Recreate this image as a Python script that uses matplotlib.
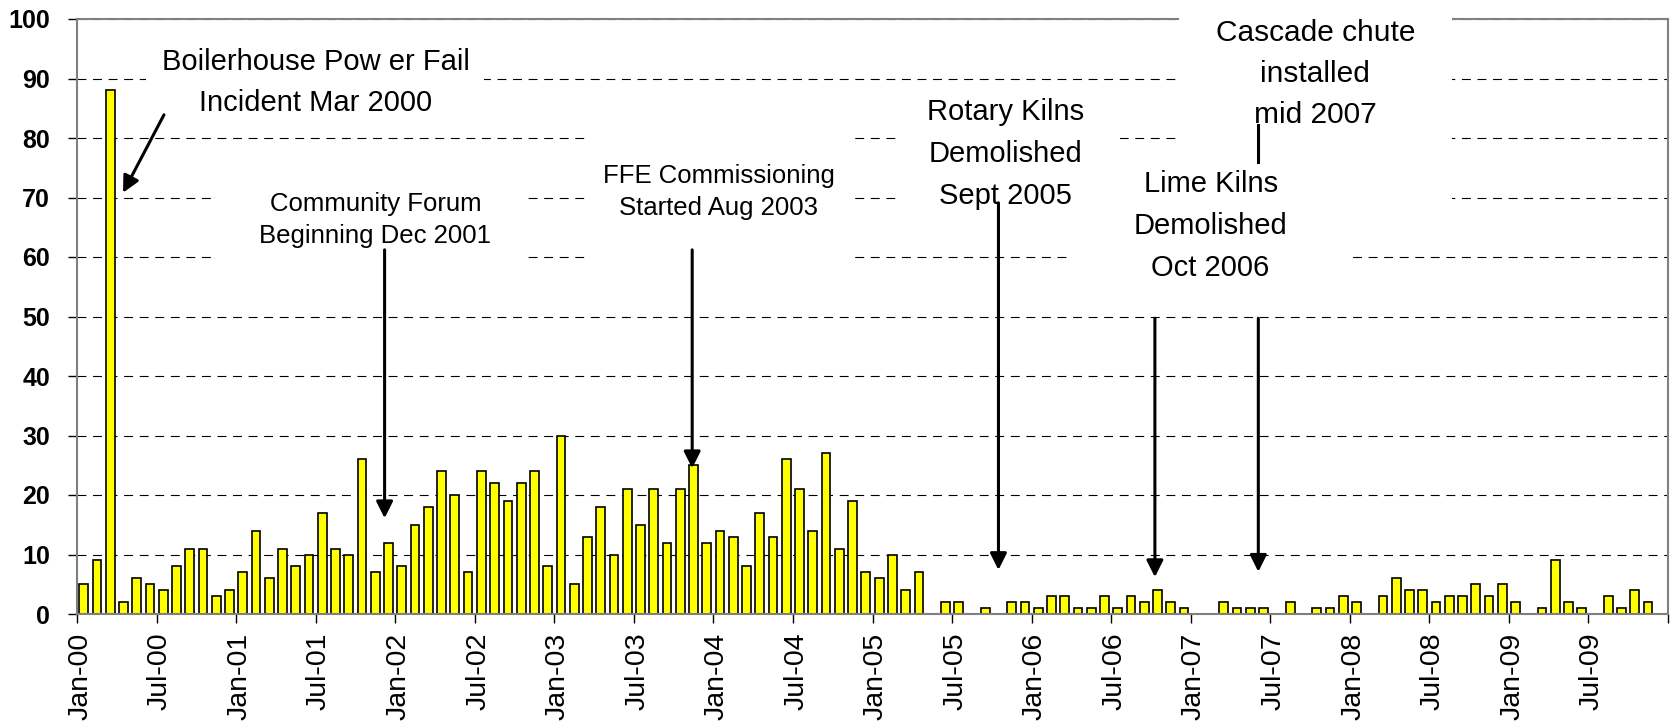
import matplotlib
matplotlib.use('Agg')
import matplotlib.pyplot as plt
from matplotlib.patches import Rectangle
import numpy as np

plt.rcParams['font.family'] = ['Liberation Sans', 'DejaVu Sans']

# monthly counts, Jan 2000 - Dec 2009
counts_2000 = [5, 9, 88, 2, 6, 5, 4, 8, 11, 11, 3, 4]
counts_2001 = [7, 14, 6, 11, 8, 10, 17, 11, 10, 26, 7, 12]
counts_2002 = [8, 15, 18, 24, 20, 7, 24, 22, 19, 22, 24, 8]
counts_2003 = [30, 5, 13, 18, 10, 21, 15, 21, 12, 21, 25, 12]
counts_2004 = [14, 13, 8, 17, 13, 26, 21, 14, 27, 11, 19, 7]
counts_2005 = [6, 10, 4, 7, 0, 2, 2, 0, 1, 0, 2, 2]
counts_2006 = [1, 3, 3, 1, 1, 3, 1, 3, 2, 4, 2, 1]
counts_2007 = [0, 0, 2, 1, 1, 1, 0, 2, 0, 1, 1, 3]
counts_2008 = [2, 0, 3, 6, 4, 4, 2, 3, 3, 5, 3, 5]
counts_2009 = [2, 0, 1, 9, 2, 1, 0, 3, 1, 4, 2, 0]

counts = (counts_2000 + counts_2001 + counts_2002 + counts_2003 + counts_2004
          + counts_2005 + counts_2006 + counts_2007 + counts_2008 + counts_2009)

tick_labels = ['Jan-00', 'Jul-00', 'Jan-01', 'Jul-01', 'Jan-02', 'Jul-02',
               'Jan-03', 'Jul-03', 'Jan-04', 'Jul-04', 'Jan-05', 'Jul-05',
               'Jan-06', 'Jul-06', 'Jan-07', 'Jul-07', 'Jan-08', 'Jul-08',
               'Jan-09', 'Jul-09']

fig = plt.figure(figsize=(16.72, 7.28), dpi=100)
ax = fig.add_axes([77 / 1672, 114 / 728, 1591 / 1672, 595 / 728])

x = np.arange(len(counts))
ax.bar(x, counts, width=0.66, color='#FFFF00', edgecolor='black',
       linewidth=1.2, zorder=2)

ax.set_xlim(-0.5, len(counts) - 0.5)
ax.set_ylim(0, 100)
ax.set_yticks(range(0, 101, 10))
ax.set_axisbelow(True)
ax.yaxis.grid(True, color='black', linestyle=(0, (8, 6)), linewidth=0.8)

# labels every 6 months, tick marks on month boundaries
ax.set_xticks(np.arange(0, len(counts), 6) - 0.25)
ax.set_xticklabels(tick_labels)
ax.set_xticks(np.arange(-0.5, len(counts), 6), minor=True)
ax.tick_params(axis='x', which='major', length=0, pad=13.5, labelsize=20.5,
               labelrotation=90)
ax.tick_params(axis='x', which='minor', length=6.5, width=1, color='black')
ax.tick_params(axis='y', length=6.5, width=1, color='black', pad=13,
               labelsize=18)
for lbl in ax.get_yticklabels():
    lbl.set_fontweight('bold')

for side in ['left', 'right', 'top', 'bottom']:
    ax.spines[side].set_color('#808080')
    ax.spines[side].set_linewidth(1.5)

# white text boxes (x0, x1, y0, y1)
boxes = [
    (4.7, 30.2, 82, 98.5),
    (10.0, 33.4, 52, 76),
    (37.8, 57.8, 55, 87),
    (61.4, 78.2, 65, 87),
    (82.6, 103.2, 65, 104),
    (74.2, 95.7, 50.3, 75.5),
]
for x0, x1, y0, y1 in boxes:
    ax.add_patch(Rectangle((x0, y0), x1 - x0, y1 - y0, facecolor='white',
                           edgecolor='none', zorder=3, clip_on=False))

notes = [
    ('Boilerhouse Pow er Fail\nIncident Mar 2000', 17.5, 89.3, 21, 1.62),
    ('Community Forum\nBeginning Dec 2001', 22.0, 66.2, 18.5, 1.42),
    ('FFE Commissioning\nStarted Aug 2003', 47.9, 71.0, 18.5, 1.42),
    ('Rotary Kilns\nDemolished\nSept 2005', 69.5, 77.3, 21, 1.62),
    ('Lime Kilns\nDemolished\nOct 2006', 85.0, 65.2, 21, 1.62),
    ('Cascade chute\ninstalled\nmid 2007', 92.9, 90.8, 21.5, 1.6),
]
for txt, tx, ty, fs, ls in notes:
    ax.text(tx, ty, txt, ha='center', va='center', fontsize=fs,
            linespacing=ls, zorder=4, clip_on=False)

# arrows: (tail, tip)
arrows = [
    ((6.06, 83.9), (2.97, 70.8)),
    ((22.7, 61.2), (22.7, 16.1)),
    ((45.9, 61.2), (45.9, 24.5)),
    ((69.0, 69.1), (69.0, 7.4)),
    ((80.8, 49.7), (80.8, 6.2)),
    ((88.6, 49.7), (88.6, 7.1)),
]
for tail, tip in arrows:
    ax.annotate('', xy=tip, xytext=tail, zorder=5,
                arrowprops=dict(arrowstyle='-|>,head_length=0.5,head_width=0.25',
                                mutation_scale=20, lw=2.2, color='black',
                                shrinkA=0, shrinkB=0))
# top piece of the cascade arrow, the rest sits behind the lime kilns box
ax.plot([88.6, 88.6], [82.2, 76.0], color='black', lw=2.2, zorder=5)

fig.savefig('out.png', dpi=100, facecolor='white')
